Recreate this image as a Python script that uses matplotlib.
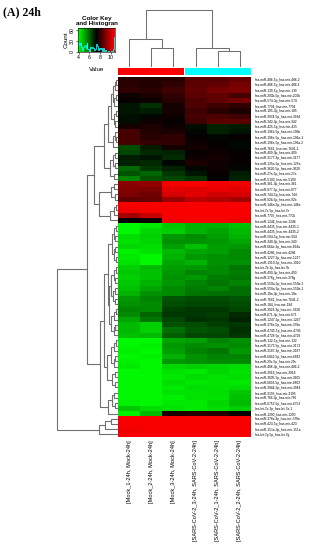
import numpy as np
import matplotlib
matplotlib.use('Agg')
import matplotlib.pyplot as plt
from matplotlib.colors import LinearSegmentedColormap

plt.rcParams['font.family'] = ['Liberation Sans', 'DejaVu Sans']

# samples in displayed (clustered) order
samples = ['[Mock_1-24h, Mock-24h]', '[Mock_2-24h, Mock-24h]', '[Mock_3-24h, Mock-24h]',
           '[SARS-CoV-2_3-24h, SARS-CoV-2-24h]', '[SARS-CoV-2_1-24h, SARS-CoV-2-24h]',
           '[SARS-CoV-2_2-24h, SARS-CoV-2-24h]']
groups = ['Mock', 'Mock', 'Mock', 'SARS-CoV-2', 'SARS-CoV-2', 'SARS-CoV-2']
group_colors = {'Mock': '#ff0000', 'SARS-CoV-2': '#00ffff'}

mirnas = [
    'hsa-miR-486-5p_hsa-mir-486-2', 'hsa-miR-486-5p_hsa-mir-486-1', 'hsa-miR-139-5p_hsa-mir-139',
    'hsa-miR-200b-5p_hsa-mir-200b', 'hsa-miR-574-3p_hsa-mir-574', 'hsa-miR-7704_hsa-mir-7704',
    'hsa-miR-185-3p_hsa-mir-185', 'hsa-miR-3934-5p_hsa-mir-3934', 'hsa-miR-342-3p_hsa-mir-342',
    'hsa-miR-425-5p_hsa-mir-425', 'hsa-miR-196b-5p_hsa-mir-196b', 'hsa-miR-196a-5p_hsa-mir-196a-1',
    'hsa-miR-196a-5p_hsa-mir-196a-2', 'hsa-miR-7641_hsa-mir-7641-1', 'hsa-miR-409-3p_hsa-mir-409',
    'hsa-miR-3177-3p_hsa-mir-3177', 'hsa-miR-125a-5p_hsa-mir-125a', 'hsa-miR-3620-5p_hsa-mir-3620',
    'hsa-miR-27a-5p_hsa-mir-27a', 'hsa-miR-5100_hsa-mir-5100', 'hsa-miR-361-3p_hsa-mir-361',
    'hsa-miR-877-5p_hsa-mir-877', 'hsa-miR-744-5p_hsa-mir-744', 'hsa-miR-92b-5p_hsa-mir-92b',
    'hsa-miR-146a-5p_hsa-mir-146a', 'hsa-let-7e-5p_hsa-let-7e', 'hsa-miR-7706_hsa-mir-7706',
    'hsa-miR-1246_hsa-mir-1246', 'hsa-miR-4435_hsa-mir-4435-1', 'hsa-miR-4435_hsa-mir-4435-2',
    'hsa-miR-504-5p_hsa-mir-504', 'hsa-miR-340-3p_hsa-mir-340', 'hsa-miR-664a-3p_hsa-mir-664a',
    'hsa-miR-4286_hsa-mir-4286', 'hsa-miR-1227-3p_hsa-mir-1227', 'hsa-miR-1910-5p_hsa-mir-1910',
    'hsa-let-7b-3p_hsa-let-7b', 'hsa-miR-490-3p_hsa-mir-490', 'hsa-miR-378g_hsa-mir-378g',
    'hsa-miR-550a-5p_hsa-mir-550a-2', 'hsa-miR-550a-5p_hsa-mir-550a-1', 'hsa-miR-18a-3p_hsa-mir-18a',
    'hsa-miR-7641_hsa-mir-7641-2', 'hsa-miR-184_hsa-mir-184', 'hsa-miR-3928-3p_hsa-mir-3928',
    'hsa-miR-671-3p_hsa-mir-671', 'hsa-miR-1247-5p_hsa-mir-1247', 'hsa-miR-378a-5p_hsa-mir-378a',
    'hsa-miR-4745-5p_hsa-mir-4745', 'hsa-miR-4728-5p_hsa-mir-4728', 'hsa-miR-132-5p_hsa-mir-132',
    'hsa-miR-3173-5p_hsa-mir-3173', 'hsa-miR-3187-3p_hsa-mir-3187', 'hsa-miR-6842-5p_hsa-mir-6842',
    'hsa-miR-29c-5p_hsa-mir-29c', 'hsa-miR-486-3p_hsa-mir-486-2', 'hsa-miR-3918_hsa-mir-3918',
    'hsa-miR-3605-5p_hsa-mir-3605', 'hsa-miR-6803-5p_hsa-mir-6803', 'hsa-miR-3944-5p_hsa-mir-3944',
    'hsa-miR-3195_hsa-mir-3195', 'hsa-miR-766-3p_hsa-mir-766', 'hsa-miR-6753-5p_hsa-mir-6753',
    'hsa-let-7a-3p_hsa-let-7a-1', 'hsa-miR-1290_hsa-mir-1290', 'hsa-miR-378a-3p_hsa-mir-378a',
    'hsa-miR-423-5p_hsa-mir-423', 'hsa-miR-151a-3p_hsa-mir-151a', 'hsa-let-7g-5p_hsa-let-7g',
]

# log2 expression, rows in displayed order, columns as in samples
expr = [
    [7.9, 7.8, 7.9, 8.5, 8.5, 8.7],
    [7.9, 7.8, 8.0, 8.5, 8.6, 8.9],
    [8.0, 7.9, 8.2, 8.6, 8.9, 9.0],
    [7.5, 7.7, 8.0, 8.5, 8.6, 8.3],
    [7.4, 7.5, 7.9, 8.4, 8.6, 8.9],
    [7.1, 6.7, 7.6, 8.4, 8.2, 8.0],
    [7.1, 7.0, 7.6, 8.2, 7.9, 7.7],
    [7.2, 7.3, 7.5, 8.3, 8.4, 8.2],
    [7.2, 7.5, 7.4, 8.2, 8.5, 8.5],
    [7.6, 7.7, 7.5, 7.2, 6.9, 7.0],
    [8.3, 7.8, 7.7, 7.3, 6.9, 7.1],
    [8.3, 7.9, 8.0, 7.4, 7.3, 7.4],
    [8.3, 8.1, 8.0, 7.5, 7.4, 7.3],
    [6.3, 7.0, 7.6, 7.6, 7.4, 7.3],
    [6.4, 6.8, 6.9, 7.4, 7.5, 7.4],
    [7.0, 7.1, 6.8, 7.5, 7.6, 7.4],
    [6.9, 6.8, 7.3, 7.7, 7.5, 7.4],
    [6.0, 6.6, 6.9, 7.3, 7.5, 7.3],
    [6.2, 6.0, 6.6, 7.1, 7.4, 7.0],
    [5.6, 6.2, 6.4, 6.6, 7.4, 6.9],
    [9.2, 9.3, 10.6, 10.7, 10.6, 10.6],
    [9.1, 9.0, 10.4, 10.3, 10.5, 10.4],
    [9.0, 8.8, 10.2, 10.4, 10.1, 10.2],
    [8.6, 8.7, 9.4, 9.8, 9.7, 9.6],
    [10.7, 10.7, 10.7, 10.7, 10.7, 10.7],
    [10.6, 10.7, 10.7, 10.7, 10.7, 10.7],
    [9.6, 10.0, 10.7, 10.7, 10.7, 10.7],
    [7.4, 7.5, 10.6, 10.7, 10.7, 10.6],
    [4.0, 4.2, 4.7, 5.0, 5.0, 4.8],
    [4.0, 4.5, 4.6, 5.0, 5.1, 4.9],
    [4.4, 4.6, 5.3, 5.5, 5.2, 5.0],
    [4.3, 4.5, 5.4, 5.4, 5.3, 5.1],
    [4.5, 4.4, 5.2, 4.8, 5.2, 5.3],
    [4.1, 4.3, 4.9, 5.1, 5.2, 5.5],
    [4.2, 4.0, 5.0, 5.3, 5.4, 5.5],
    [4.3, 4.0, 5.1, 5.0, 5.4, 5.4],
    [4.6, 4.9, 5.2, 5.3, 5.5, 5.8],
    [4.7, 4.8, 5.3, 5.6, 5.5, 5.7],
    [4.6, 4.8, 5.4, 5.3, 5.7, 5.8],
    [4.7, 5.0, 5.3, 5.6, 5.8, 5.6],
    [4.8, 5.1, 5.5, 5.7, 5.6, 5.9],
    [5.0, 5.4, 5.5, 5.8, 5.9, 5.9],
    [5.3, 5.6, 6.2, 6.3, 6.3, 6.2],
    [5.4, 5.5, 6.3, 6.4, 6.4, 6.3],
    [5.6, 5.5, 6.5, 6.6, 6.6, 6.4],
    [5.5, 6.0, 6.6, 6.6, 6.5, 6.8],
    [5.1, 5.8, 6.4, 6.7, 6.6, 6.9],
    [4.9, 4.6, 6.2, 6.3, 6.5, 6.6],
    [4.9, 4.6, 5.9, 6.2, 6.3, 6.7],
    [4.8, 4.9, 6.1, 6.4, 6.4, 6.6],
    [4.0, 4.0, 5.1, 5.2, 5.6, 5.4],
    [4.0, 4.1, 5.3, 5.5, 5.4, 5.5],
    [4.1, 4.0, 5.2, 5.6, 5.8, 5.3],
    [4.0, 4.1, 5.0, 5.4, 5.6, 5.6],
    [4.1, 4.0, 5.3, 5.4, 5.5, 5.5],
    [4.2, 4.0, 4.5, 4.6, 4.5, 4.4],
    [4.0, 4.0, 4.3, 4.2, 4.5, 4.3],
    [4.0, 4.0, 4.2, 4.4, 4.3, 4.4],
    [4.0, 4.0, 4.4, 4.2, 4.3, 4.2],
    [4.0, 4.0, 4.2, 4.4, 4.3, 4.4],
    [4.0, 4.0, 4.3, 4.3, 4.4, 4.7],
    [4.0, 4.0, 4.1, 4.3, 4.3, 4.8],
    [4.1, 4.0, 4.2, 4.2, 4.5, 4.9],
    [4.7, 4.4, 4.3, 4.2, 4.4, 4.6],
    [4.1, 4.9, 7.7, 7.8, 7.8, 7.4],
    [10.7, 10.7, 10.7, 10.7, 10.7, 10.7],
    [10.7, 10.7, 10.7, 10.7, 10.7, 10.7],
    [10.6, 10.7, 10.7, 10.7, 10.7, 10.7],
    [10.7, 10.7, 10.7, 10.7, 10.7, 10.7],
]

# dendrogram merges: (height, left, right), leaves are row / column indices
col_tree = (56, (27, 0, (18, 1, 2)), (18, 3, (15, 4, 5)))

t1 = (4, (2, (1, 0, 1), 2), (3, (1.5, 3, 4), 5))
t2 = (3, (1.5, 6, 7), (2, 8, 9))
t3 = (4, (2, 10, (1, 11, 12)), 13)
t4 = (7, (4, (2, 14, 15), (2.5, 16, 17)), (3, 18, 19))
t5 = (6, (3, 20, 21), (2.5, 22, 23))
t6 = (7, (3, (1.5, 24, 25), 26), 27)
g1 = (5, (3, (1.5, 28, 29), (2, 30, 31)), (3.5, (2, 32, 33), (1.5, 34, 35)))
g2 = (6, (3, (1.5, 36, 37), (2, 38, 39)), (4, (2, 40, 41), (2.5, 42, 43)))
g3 = (6, (3, (1.5, 44, 45), 46), (3.5, (2, 47, 48), 49))
g4 = (10, (6, (3, (1.5, 50, 51), 52), (3, (2, 53, 54), 55)), (5, (2, 56, 57), (2.5, 58, 59)))
g5 = (9, (5, (3, 60, 61), (2, 62, 63)), 64)
red_tail = (18, (12, (6, 65, 66), 67), 68)
upper = (23, (13, (9, (6, t1, t2), t3), t4), (18, t5, t6))
lower = (17, (13, (9, g1, (8, g2, g3)), g4), g5)
row_tree = (60, (30, upper, lower), red_tail)

W, H = 321, 550
data = np.array(expr)
vmin, vmax = 3.9, 10.8
cmap = LinearSegmentedColormap.from_list('greenred', ['#00ff00', '#000000', '#ff0000'], N=75)
dcol = '#707070'


def box(x0, y0, x1, y1):
    return [x0 / W, 1 - y1 / H, (x1 - x0) / W, (y1 - y0) / H]


def draw_tree(ax, node, side, scale=1.0, offset=0.0):
    # side 'left': heights go to negative x of the heatmap axes
    if isinstance(node, int):
        return node + 0.5, 0
    h, left, right = node
    c1, h1 = draw_tree(ax, left, side, scale, offset)
    c2, h2 = draw_tree(ax, right, side, scale, offset)
    hs = [offset - scale * v for v in (h1, h, h, h2)] if side == 'left' else [h1, h, h, h2]
    cs = [c1, c1, c2, c2]
    if side == 'left':
        ax.plot(hs, cs, color=dcol, lw=0.8, clip_on=False, zorder=10)
    else:
        ax.plot(cs, hs, color=dcol, lw=0.75, clip_on=False)
    return (c1 + c2) / 2, h


def hide_frame(a):
    a.tick_params(left=False, bottom=False, labelleft=False, labelbottom=False)
    a.set_facecolor('none')
    for s in a.spines.values():
        s.set_visible(False)


fig = plt.figure(figsize=(W / 100, H / 100), dpi=100)

fig.text(3 / W, 1 - 15 / H, '(A) 24h', family=['Liberation Serif'], fontweight='bold', fontsize=8.5)

# column dendrogram
axc = fig.add_axes(box(118, 10, 251, 66))
draw_tree(axc, col_tree, 'top')
axc.set_xlim(0, 6)
axc.set_ylim(0, 56)
hide_frame(axc)

# heatmap
ax = fig.add_axes(box(118, 77, 251, 437))
ax.pcolormesh(np.arange(7), np.arange(70), data, cmap=cmap, vmin=vmin, vmax=vmax)
ax.set_xlim(0, 6)
ax.set_ylim(69, 0)
ax.yaxis.tick_right()
ax.set_yticks(np.arange(69) + 0.5)
ax.set_yticklabels(mirnas, fontsize=2.3)
ax.set_xticks(np.arange(6) + 0.5)
ax.set_xticklabels(samples, rotation=90, fontsize=4.1, va='top', ha='center')
ax.tick_params(length=0, pad=2.5)
for s in ax.spines.values():
    s.set_visible(False)

# row dendrogram, drawn left of the heatmap in its row coordinates
col_px = 133 / 6
draw_tree(ax, row_tree, 'left', scale=1 / col_px, offset=-1 / col_px)

# group colour bar
axg = fig.add_axes(box(118, 68, 251, 75))
for i, grp in enumerate(groups):
    axg.axvspan(i, i + 1, color=group_colors[grp], lw=0)
axg.set_xlim(0, 6)
hide_frame(axg)

# colour key with histogram
axk = fig.add_axes(box(78, 28, 115, 52))
axk.imshow(np.linspace(vmin, vmax, 200)[None, :], cmap=cmap, vmin=vmin, vmax=vmax,
           extent=(vmin, vmax, 0, 66), aspect='auto')
counts, edges = np.histogram(data.ravel(), bins=np.linspace(vmin, vmax, 40))
axk.step(edges, np.r_[counts, counts[-1]], where='post', color='#00ffff', lw=0.6)
axk.set_xlim(vmin, vmax)
axk.set_ylim(0, 66)
axk.set_xticks([4, 6, 8, 10])
axk.set_yticks([0, 30, 60])
axk.set_yticklabels(['0', '30', '60'], rotation=90, va='center')
axk.tick_params(labelsize=3.8, length=1.5, width=0.4, pad=1)
axk.set_xlabel('Value', fontsize=4.5, labelpad=5)
axk.set_ylabel('Count', fontsize=4.5, labelpad=1)
for s in axk.spines.values():
    s.set_linewidth(0.4)
axk.set_title('Color Key\nand Histogran', fontsize=4.5, fontweight='bold', pad=2, linespacing=1.1)

fig.savefig('out.png', dpi=100)
